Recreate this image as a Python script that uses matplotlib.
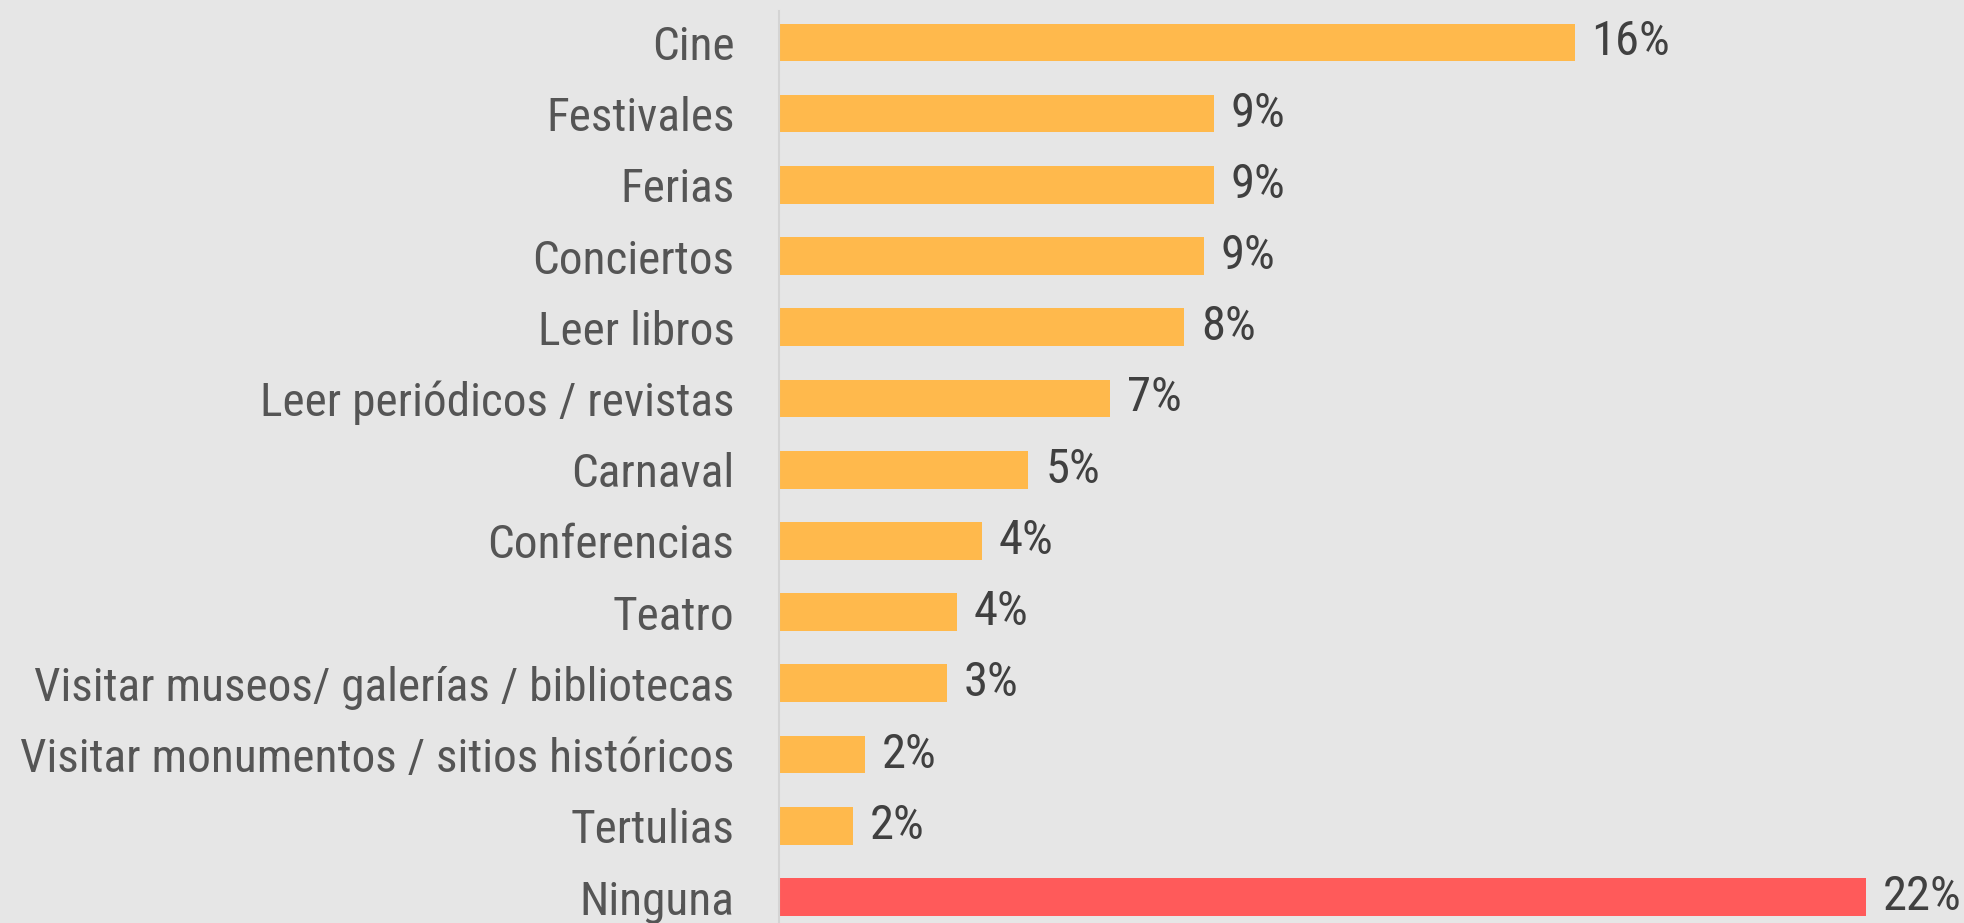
import matplotlib.pyplot as plt

categories = ['Cine', 'Festivales', 'Ferias', 'Conciertos', 'Leer libros',
              'Leer periódicos / revistas', 'Carnaval', 'Conferencias', 'Teatro',
              'Visitar museos/ galerías / bibliotecas',
              'Visitar monumentos / sitios históricos', 'Tertulias', 'Ninguna']
values = [16.1, 8.8, 8.8, 8.6, 8.2, 6.7, 5.05, 4.1, 3.6, 3.4, 1.75, 1.5, 22.0]
value_labels = ['16%', '9%', '9%', '9%', '8%', '7%', '5%', '4%', '4%', '3%', '2%', '2%', '22%']

plt.rcParams['font.family'] = ['Roboto Condensed', 'Liberation Sans Narrow', 'Roboto', 'DejaVu Sans']

bg = '#E6E6E6'
colors = ['#FFB94C'] * (len(values) - 1) + ['#FF5A5A']

fig = plt.figure(figsize=(19.65, 9.23), dpi=100, facecolor=bg)
ax = fig.add_axes([0.3964, 0.0, 0.6036, 0.988], facecolor=bg)

pos = list(range(len(categories)))
bars = ax.barh(pos, values, height=0.53, color=colors)
ax.set_ylim(12.365, -0.44)
ax.set_xlim(0, 24)

ax.set_yticks(pos)
ax.set_yticklabels(categories, fontsize=34, color='#555555')
ax.tick_params(axis='y', length=0, pad=32)
ax.set_xticks([])

for s in ['top', 'right', 'bottom']:
    ax.spines[s].set_visible(False)
ax.spines['left'].set_color('#D4D4D4')
ax.spines['left'].set_linewidth(1.5)

# value labels next to bars
for rect, lab in zip(bars, value_labels):
    ax.annotate(lab, xy=(rect.get_width(), rect.get_y() + rect.get_height() / 2),
                xytext=(12, 0), textcoords='offset points',
                ha='left', va='center', fontsize=35, color='#404040')

fig.savefig('out.png', dpi=100, facecolor=bg)
